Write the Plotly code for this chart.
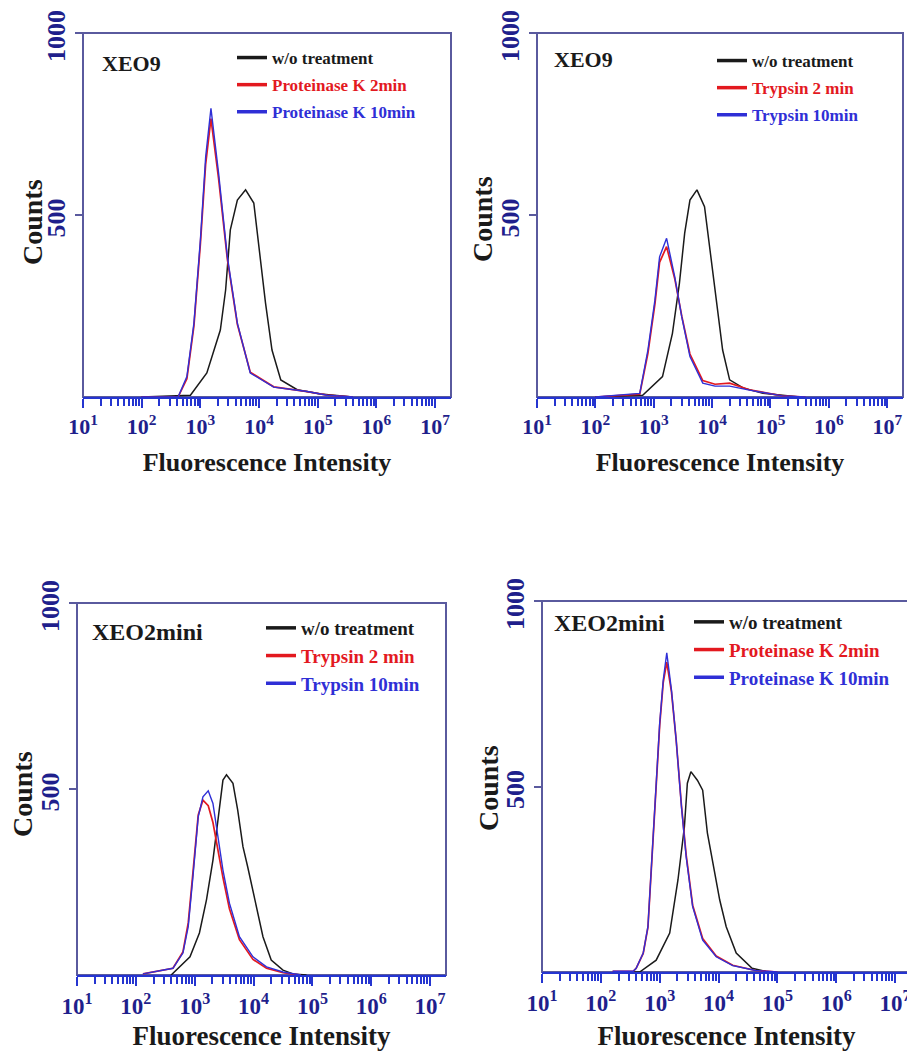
import numpy as np
import plotly.graph_objects as go

# the page body adds an 8px margin, so the figure is drawn 8px smaller and
# every pixel position below is given in window pixels and shifted by OFF
OFF = 8
W, H = 915 - OFF, 1051 - OFF

# ---------------- data (log10 of fluorescence intensity, counts) ----------------
# Panel 1: XEO9, Proteinase K
p1_treat_log = [2.0, 2.62, 2.77, 2.89, 3.0, 3.09, 3.18, 3.31, 3.46, 3.63, 3.85, 4.25, 4.82, 5.16, 5.6]
p1_blue = [0, 0, 56, 203, 431, 660, 793, 615, 385, 203, 66, 27, 15, 5, 0]
p1_red = [0, 0, 50, 195, 420, 640, 765, 600, 378, 200, 68, 28, 15, 5, 0]
p1_ctrl_log = [2.0, 2.83, 3.11, 3.34, 3.43, 3.51, 3.63, 3.77, 3.91, 4.0, 4.11, 4.22, 4.37, 4.65, 5.05, 5.6]
p1_ctrl = [0, 5, 66, 184, 294, 459, 541, 569, 533, 404, 258, 129, 47, 20, 8, 0]

# Panel 2: XEO9, Trypsin
p2_treat_log = [2.0, 2.76, 2.90, 3.02, 3.10, 3.22, 3.36, 3.48, 3.62, 3.84, 4.05, 4.30, 4.64, 5.2, 5.6]
p2_blue = [0, 10, 129, 266, 385, 436, 330, 220, 111, 38, 30, 30, 19, 3, 0]
p2_red = [0, 8, 120, 255, 370, 413, 325, 222, 118, 45, 35, 38, 20, 3, 0]
p2_ctrl_log = [2.0, 2.81, 3.15, 3.32, 3.44, 3.53, 3.62, 3.74, 3.87, 3.96, 4.07, 4.18, 4.30, 4.53, 4.87, 5.5]
p2_ctrl = [0, 5, 56, 175, 313, 450, 541, 569, 523, 404, 266, 129, 47, 25, 10, 0]

# Panel 3: XEO2mini, Trypsin
p3_treat_log = [2.12, 2.63, 2.80, 2.89, 2.97, 3.06, 3.14, 3.23, 3.31, 3.39, 3.48, 3.59, 3.76, 3.99, 4.22, 4.50, 4.8]
p3_blue = [3, 18, 59, 130, 264, 425, 479, 495, 461, 372, 282, 193, 103, 49, 22, 8, 0]
p3_red = [3, 18, 62, 140, 275, 430, 470, 455, 410, 340, 262, 178, 95, 42, 18, 6, 0]
p3_ctrl_log = [2.6, 2.92, 3.08, 3.20, 3.31, 3.42, 3.48, 3.54, 3.65, 3.73, 3.82, 3.90, 4.02, 4.16, 4.30, 4.50, 4.67, 4.9]
p3_ctrl = [0, 49, 113, 202, 309, 444, 524, 538, 515, 444, 345, 291, 202, 103, 40, 13, 3, 0]

# Panel 4: XEO2mini, Proteinase K
p4_treat_log = [2.2, 2.55, 2.60, 2.72, 2.80, 2.85, 2.94, 3.00, 3.06, 3.12, 3.20, 3.28, 3.37, 3.45, 3.56, 3.73, 3.96, 4.24, 4.63, 5.0]
p4_blue = [2, 2, 10, 51, 122, 266, 490, 671, 787, 860, 760, 625, 445, 310, 176, 86, 41, 17, 4, 0]
p4_red = [2, 2, 10, 50, 120, 262, 485, 665, 780, 835, 755, 625, 448, 315, 180, 90, 43, 18, 4, 0]
p4_ctrl_log = [2.5, 2.66, 2.94, 3.17, 3.31, 3.42, 3.47, 3.53, 3.64, 3.73, 3.81, 3.90, 4.02, 4.13, 4.30, 4.57, 4.8]
p4_ctrl = [0, 0, 32, 105, 248, 392, 509, 540, 517, 490, 375, 294, 194, 122, 51, 10, 2]

panel_titles = ["XEO9", "XEO9", "XEO2mini", "XEO2mini"]
legend_names = [
    ["w/o treatment", "Proteinase K 2min", "Proteinase K 10min"],
    ["w/o treatment", "Trypsin 2 min", "Trypsin 10min"],
    ["w/o treatment", "Trypsin 2 min", "Trypsin 10min"],
    ["w/o treatment", "Proteinase K 2min", "Proteinase K 10min"],
]
x_tick_exp = [1, 2, 3, 4, 5, 6, 7]
y_ticks = [500, 1000]
x_title = "Fluorescence Intensity"
y_title = "Counts"

# ---------------- styling ----------------
FONT = "Liberation Serif, Times New Roman, serif"
BLACK = "#1a1a1a"
RED = "#e3191f"
BLUE = "#2f2fd6"
NAVY = "#1f1f8c"
FRAME = "#5a5a9e"
AXBLUE = "#2535d0"

# panel frames in window pixels: (left, right, top, bottom)
frames = [(83, 451, 33, 397), (537, 903, 33, 397), (77, 446, 603, 975), (542, 911, 601, 972)]
legend_pos = [(232, 40), (712, 43), (261, 609), (689, 603)]
legend_gap = [2, 2, 0, 0]
title_pos = [(100, 63), (552, 60), (90, 632), (552, 623)]
counts_pos = [(32, 222), (483, 219), (22, 794), (488, 788)]
big = [False, False, True, True]


def px(x):
    return (x - OFF) / W


def py(y):
    return 1 - (y - OFF) / H


data = [
    (p1_ctrl_log, p1_ctrl, p1_treat_log, p1_red, p1_blue),
    (p2_ctrl_log, p2_ctrl, p2_treat_log, p2_red, p2_blue),
    (p3_ctrl_log, p3_ctrl, p3_treat_log, p3_red, p3_blue),
    (p4_ctrl_log, p4_ctrl, p4_treat_log, p4_red, p4_blue),
]

fig = go.Figure()
minor_vals = [m * 10 ** k for k in range(1, 7) for m in range(2, 10)]

for i, (cl, cy, tl, ry, by) in enumerate(data):
    n = "" if i == 0 else str(i + 1)
    xa, ya = "x" + n, "y" + n
    leg = "legend" + n
    cx = np.power(10.0, cl)
    tx = np.power(10.0, tl)
    fig.add_trace(go.Scatter(x=cx, y=cy, mode="lines", xaxis=xa, yaxis=ya,
                             line=dict(color=BLACK, width=1.5), showlegend=False))
    fig.add_trace(go.Scatter(x=tx, y=ry, mode="lines", xaxis=xa, yaxis=ya,
                             line=dict(color=RED, width=1.7), showlegend=False))
    fig.add_trace(go.Scatter(x=tx, y=by, mode="lines", xaxis=xa, yaxis=ya,
                             line=dict(color=BLUE, width=1.4), showlegend=False))
    # legend proxies
    for name, col in zip(legend_names[i], [BLACK, RED, BLUE]):
        fig.add_trace(go.Scatter(x=[None], y=[None], mode="lines", xaxis=xa, yaxis=ya,
                                 line=dict(color=col, width=3.5),
                                 name=f'<span style="color:{col}">{name}</span>',
                                 legend=leg, legendgroup=f"{i}-{name}", showlegend=True))

    l, r, t, b = frames[i]
    fig.update_layout({
        "xaxis" + n: dict(
            type="log", range=[1, 7.27], domain=[px(l), px(r)], anchor=ya, automargin=False,
            tickvals=[10 ** e for e in x_tick_exp],
            ticktext=[f"10<sup>{e}</sup>" for e in x_tick_exp],
            ticks="outside", ticklen=9, tickwidth=1.5, tickcolor=AXBLUE,
            minor=dict(tickvals=minor_vals, ticks="outside", ticklen=7,
                       tickwidth=1.5, tickcolor=AXBLUE, showgrid=False),
            showline=True, linecolor=AXBLUE, linewidth=2, mirror=False,
            showgrid=False, zeroline=False, ticklabeloverflow="allow",
            tickfont=dict(family=FONT, size=23 if big[i] else 22, color=NAVY, weight="bold"),
            title=dict(text=x_title, standoff=14,
                       font=dict(family=FONT, size=27 if big[i] else 26, color=BLACK, weight="bold")),
        ),
        "yaxis" + n: dict(
            range=[0, 1000], domain=[py(b), py(t)], anchor=xa, automargin=False,
            tickvals=y_ticks, ticks="outside", ticklen=7, tickwidth=1.5, tickcolor=FRAME,
            tickangle=-90, showline=False, showgrid=False, zeroline=False,
            ticklabeloverflow="allow", ticklabelshift=7,
            tickfont=dict(family=FONT, size=26, color=NAVY, weight="bold"),
        ),
        leg: dict(x=px(legend_pos[i][0]), y=py(legend_pos[i][1]), xanchor="left", yanchor="top",
                  bgcolor="rgba(0,0,0,0)", borderwidth=0, itemwidth=30,
                  tracegroupgap=legend_gap[i], traceorder="grouped",
                  font=dict(family=FONT, size=19 if big[i] else 17, weight="bold")),
    })
    fig.add_shape(type="rect", xref=xa + " domain", yref=ya + " domain",
                  x0=0, x1=1, y0=0, y1=1, line=dict(color=FRAME, width=2), layer="below")
    fig.add_annotation(text=panel_titles[i], x=px(title_pos[i][0]), y=py(title_pos[i][1]),
                       xref="paper", yref="paper", xanchor="left", yanchor="middle",
                       showarrow=False,
                       font=dict(family=FONT, size=24 if big[i] else 22, color=BLACK, weight="bold"))
    fig.add_annotation(text=y_title, x=px(counts_pos[i][0]), y=py(counts_pos[i][1]),
                       xref="paper", yref="paper", xanchor="center", yanchor="middle",
                       textangle=-90, showarrow=False,
                       font=dict(family=FONT, size=28, color=BLACK, weight="bold"))

fig.update_layout(width=W, height=H, margin=dict(l=0, r=0, t=0, b=0, autoexpand=False),
                  paper_bgcolor="white", plot_bgcolor="white",
                  font=dict(family=FONT))
fig.write_html("out.html")
